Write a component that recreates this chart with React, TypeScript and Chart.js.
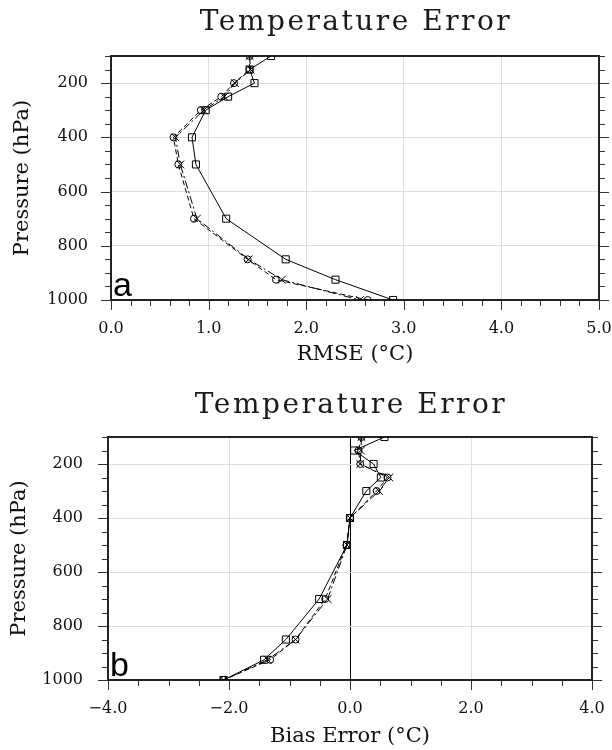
import React, { useEffect, useRef } from 'react';
import { Chart, registerables } from 'chart.js';
Chart.register(...registerables);

// ---------- data ----------
const LEVELS = [100, 150, 200, 250, 300, 400, 500, 700, 850, 925, 1000];

const RMSE_SQUARE = [1.64, 1.42, 1.47, 1.2, 0.97, 0.83, 0.87, 1.18, 1.79, 2.3, 2.89];
const RMSE_CIRCLE = [1.42, 1.42, 1.26, 1.13, 0.92, 0.64, 0.69, 0.85, 1.4, 1.69, 2.63];
const RMSE_CROSS = [1.42, 1.43, 1.27, 1.16, 0.95, 0.66, 0.71, 0.88, 1.41, 1.75, 2.55];

const BIAS_SQUARE = [0.57, 0.07, 0.39, 0.51, 0.27, 0.0, -0.05, -0.51, -1.06, -1.42, -2.09];
const BIAS_CIRCLE = [0.19, 0.14, 0.17, 0.62, 0.44, 0.0, -0.06, -0.41, -0.9, -1.32, -2.09];
const BIAS_CROSS = [0.19, 0.18, 0.17, 0.65, 0.48, 0.0, -0.05, -0.37, -0.9, -1.36, -2.09];

const RMSE_TICKS = [0, 1, 2, 3, 4, 5];
const BIAS_TICKS = [-4, -2, 0, 2, 4];
const PRESSURE_TICKS = [200, 400, 600, 800, 1000];

const TITLE = 'Temperature Error';
const Y_TITLE = 'Pressure (hPa)';
const RMSE_TITLE = 'RMSE (\u00B0C)';
const BIAS_TITLE = 'Bias Error (\u00B0C)';

// ---------- styling ----------
const SERIF = '"DejaVu Serif", serif';
const W = 612;
const H = 375;

type Panel = {
  letter: string;
  xTitle: string;
  xMin: number;
  xMax: number;
  xTicks: number[];
  xMinor: number;
  xMajor: number;
  sq: number[];
  ci: number[];
  cr: number[];
  left: number;
  right: number;
  top: number;
  bottom: number;
  titleY: number;
};

const PANELS: Panel[] = [
  {
    letter: 'a', xTitle: RMSE_TITLE, xMin: 0, xMax: 5, xTicks: RMSE_TICKS, xMinor: 0.2, xMajor: 1,
    sq: RMSE_SQUARE, ci: RMSE_CIRCLE, cr: RMSE_CROSS,
    left: 111, right: 599, top: 56, bottom: 300, titleY: 23,
  },
  {
    letter: 'b', xTitle: BIAS_TITLE, xMin: -4, xMax: 4, xTicks: BIAS_TICKS, xMinor: 0.5, xMajor: 2,
    sq: BIAS_SQUARE, ci: BIAS_CIRCLE, cr: BIAS_CROSS,
    left: 108, right: 592, top: 62, bottom: 305, titleY: 31,
  },
];

const fmt = (v: number) => (v < 0 ? '\u2212' + Math.abs(v).toFixed(1) : v.toFixed(1));

const framePlugin = {
  id: 'frame',
  beforeDatasetsDraw(chart: any, _args: any, opts: any) {
    const { ctx, chartArea, scales } = chart;
    const { left, right, top, bottom } = chartArea;
    const x = scales.x;
    const y = scales.y;
    ctx.save();
    ctx.strokeStyle = '#333';
    ctx.lineWidth = 1;
    for (let p = 100; p <= 1000; p += 50) {
      const py = Math.round(y.getPixelForValue(p)) + 0.5;
      const len = p % 200 === 0 ? 10 : 6;
      ctx.beginPath();
      ctx.moveTo(left - len, py);
      ctx.lineTo(left, py);
      ctx.moveTo(right, py);
      ctx.lineTo(right + len, py);
      ctx.stroke();
    }
    const n = Math.round((opts.xMax - opts.xMin) / opts.xMinor);
    for (let i = 0; i <= n; i++) {
      const v = opts.xMin + i * opts.xMinor;
      const px = Math.round(x.getPixelForValue(v)) + 0.5;
      const r = v / opts.xMajor;
      const major = Math.abs(r - Math.round(r)) < 1e-6;
      const len = major ? 10 : 6;
      ctx.beginPath();
      ctx.moveTo(px, bottom);
      ctx.lineTo(px, bottom + len);
      ctx.stroke();
    }
    ctx.strokeStyle = '#222';
    ctx.lineWidth = 2;
    ctx.strokeRect(left, top, right - left, bottom - top);
    ctx.restore();
  },
  afterDatasetsDraw(chart: any, _args: any, opts: any) {
    const { ctx, chartArea } = chart;
    ctx.save();
    ctx.fillStyle = '#000';
    ctx.font = '34px "Liberation Sans", Arial, sans-serif';
    ctx.textBaseline = 'alphabetic';
    ctx.textAlign = 'left';
    ctx.fillText(opts.letter, chartArea.left + 2, chartArea.bottom - 4);
    // panel title, centred over the plot area
    ctx.fillStyle = '#1a1a1a';
    ctx.font = '28px ' + SERIF;
    ctx.textBaseline = 'middle';
    ctx.textAlign = 'center';
    try { (ctx as any).letterSpacing = '2.5px'; } catch (e) { /* ignore */ }
    ctx.fillText(opts.title, (chartArea.left + chartArea.right) / 2 + 1, opts.titleY);
    ctx.restore();
  },
};

function buildConfig(p: Panel): any {
  const mk = (vals: number[]) => vals.map((v, i) => ({ x: v, y: LEVELS[i] }));
  return {
    type: 'scatter',
    data: {
      datasets: [
        {
          data: mk(p.sq), showLine: true, borderColor: '#000', borderWidth: 1,
          pointStyle: 'rect', pointRadius: 5, pointBorderColor: '#000', pointBorderWidth: 1,
          pointBackgroundColor: 'rgba(0,0,0,0)', tension: 0,
        },
        {
          data: mk(p.ci), showLine: true, borderColor: '#000', borderWidth: 1, borderDash: [5, 3],
          pointStyle: 'circle', pointRadius: 3.5, pointBorderColor: '#000', pointBorderWidth: 1,
          pointBackgroundColor: 'rgba(0,0,0,0)', tension: 0,
        },
        {
          data: mk(p.cr), showLine: true, borderColor: '#000', borderWidth: 1, borderDash: [8, 3, 2, 3],
          pointStyle: 'crossRot', pointRadius: 5.5, pointBorderColor: '#000', pointBorderWidth: 1,
          pointBackgroundColor: 'rgba(0,0,0,0)', tension: 0,
        },
      ],
    },
    options: {
      responsive: false,
      animation: false,
      devicePixelRatio: 1,
      layout: { padding: { top: p.top, left: 0, bottom: 0, right: W - p.right } },
      plugins: {
        legend: { display: false },
        tooltip: { enabled: false },
        title: { display: false },
        frame: {
          letter: p.letter, xMin: p.xMin, xMax: p.xMax, xMinor: p.xMinor, xMajor: p.xMajor,
          title: TITLE, titleY: p.titleY,
        },
      },
      scales: {
        x: {
          type: 'linear',
          position: 'bottom',
          min: p.xMin,
          max: p.xMax,
          afterBuildTicks: (s: any) => { s.ticks = p.xTicks.map((v) => ({ value: v })); },
          afterFit: (s: any) => { s.height = H - p.bottom; s.paddingLeft = 0; s.paddingRight = 0; },
          border: { display: false },
          grid: {
            drawTicks: false,
            lineWidth: 1,
            color: (c: any) => (c.tick && c.tick.value === 0 ? '#000' : '#dedede'),
          },
          ticks: {
            autoSkip: false, maxRotation: 0, padding: 19, color: '#111',
            font: { family: SERIF, size: 16 },
            callback: (v: any) => fmt(Number(v)),
          },
          title: {
            display: true, text: p.xTitle, color: '#111',
            font: { family: SERIF, size: 21, lineHeight: 1.2 },
            padding: { top: 0, bottom: p.letter === 'a' ? 8 : 1 },
          },
        },
        y: {
          type: 'linear',
          position: 'left',
          reverse: true,
          min: 100,
          max: 1000,
          afterBuildTicks: (s: any) => { s.ticks = PRESSURE_TICKS.map((v) => ({ value: v })); },
          afterFit: (s: any) => { s.width = p.left; s.paddingTop = 0; s.paddingBottom = 0; },
          border: { display: false },
          grid: { drawTicks: false, lineWidth: 1, color: '#dedede' },
          ticks: {
            autoSkip: false, padding: p.letter === 'a' ? 23 : 25, color: '#111',
            font: { family: SERIF, size: 16 },
            callback: (v: any) => String(v),
          },
          title: {
            display: true, text: Y_TITLE, color: '#111',
            font: { family: SERIF, size: 21, lineHeight: 1.2 },
            padding: { top: p.letter === 'a' ? 10 : 7, bottom: 0 },
          },
        },
      },
    },
    plugins: [framePlugin],
  };
}

function PanelChart({ panel }: { panel: Panel }) {
  const ref = useRef<HTMLCanvasElement | null>(null);
  useEffect(() => {
    if (!ref.current) return;
    const chart = new Chart(ref.current, buildConfig(panel));
    return () => chart.destroy();
  }, [panel]);
  return <canvas ref={ref} width={W} height={H} style={{ display: 'block', width: W, height: H }} />;
}

export default function App() {
  return (
    <div style={{ position: 'absolute', left: 0, top: 0, width: W, height: 2 * H, background: '#fff' }}>
      {PANELS.map((p) => (
        <PanelChart key={p.letter} panel={p} />
      ))}
    </div>
  );
}
